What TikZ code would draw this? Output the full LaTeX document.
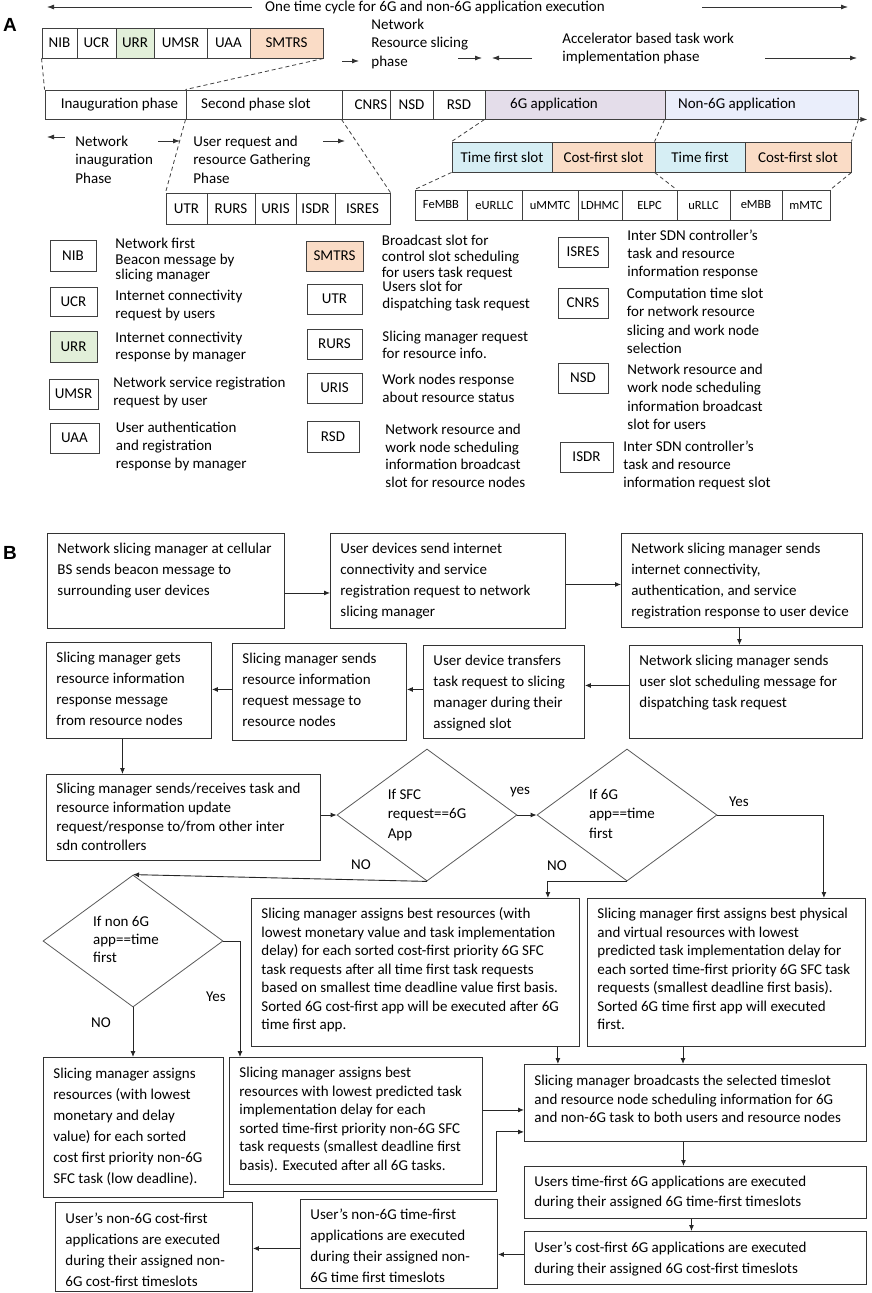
\documentclass[tikz,border=0pt]{standalone}
\usepackage{fontspec}
\setmainfont{Carlito}
\newfontfamily\headfont{Liberation Sans}
\usetikzlibrary{arrows.meta,shapes.geometric}

\definecolor{urrgreen}{HTML}{E2EFD9}
\definecolor{slotorange}{HTML}{FADCC6}
\definecolor{appsix}{HTML}{E4DDEA}
\definecolor{appnonsix}{HTML}{EAEEFB}
\definecolor{timecyan}{HTML}{D6EEF4}

% text lines of a flow box, kept at the top of the box
\newcommand{\boxlines}[3]{\parbox[c][#2][t]{#1}{\begin{tabular}[t]{@{}l@{}}#3\end{tabular}}}
\newcommand{\keylines}[1]{\begin{tabular}[t]{@{}l@{}}#1\end{tabular}}

\tikzset{
  cell/.style={draw=black!75, minimum height=30pt, inner sep=0pt, font=\fontsize{15}{18}\selectfont},
  tinycell/.style={cell, font=\fontsize{12.5}{15}\selectfont},
  keybox/.style={draw=black!75, minimum height=30pt, inner sep=0pt, font=\fontsize{15}{18}\selectfont},
  keytext/.style={anchor=base west, inner sep=0pt, font=\fontsize{15}{18.3}\selectfont},
  note/.style={inner sep=0pt, font=\fontsize{15}{18.8}\selectfont},
  zoomline/.style={black!75, line width=0.8pt, dash pattern=on 4pt off 3pt},
  span/.style={black!80, line width=0.8pt, -{Latex[length=7pt,width=5pt]}},
  flowbox/.style={draw=black!80, anchor=north west, inner xsep=10pt, inner ysep=5pt, font=\fontsize{15}{21}\selectfont},
  tightbox/.style={flowbox, inner ysep=7.5pt, font=\fontsize{15}{18.5}\selectfont},
  decision/.style={diamond, draw=black!65, line width=0.8pt, aspect=1.36, inner sep=0pt, minimum width=180pt, minimum height=132pt, font=\fontsize{15}{19.5}\selectfont},
  flow/.style={black!85, -{Latex[length=6pt,width=5pt]}},
  panel/.style={inner sep=0pt, font=\headfont\bfseries\fontsize{19}{19}\selectfont}
}

\begin{document}
\begin{tikzpicture}[x=1pt, y=-1pt, line width=0.9pt]
  \useasboundingbox (0,0) rectangle (872,1293);

  %% panel A
  \node[panel] (panelA) at (10,25) {A};

  \node[note] (cycle) at (435,7) {One time cycle for 6G and non-6G application execution};
  \coordinate (cycleL) at (47,7);
  \coordinate (cycleR0) at (702,7);
  \coordinate (cycleR) at (848,7);
  \draw[span] ([xshift=-13pt]cycle.west) -- (cycleL);
  \draw[span] (cycleR0) -- (cycleR);

  % first phase slots
  \node[cell, minimum width=35pt] (nib) at (59.5,43) {NIB};
  \node[cell, minimum width=39pt] (ucr) at (96.5,43) {UCR};
  \node[cell, minimum width=38pt, fill=urrgreen] (urr) at (135,43) {URR};
  \node[cell, minimum width=53pt] (umsr) at (180.5,43) {UMSR};
  \node[cell, minimum width=43pt] (uaa) at (228.5,43) {UAA};
  \node[cell, minimum width=73pt, fill=slotorange] (smtrs) at (286.5,43) {SMTRS};

  \node[note, anchor=base west, font=\fontsize{15}{18.3}\selectfont] (slicephase) at (371,29.5) {\keylines{Network\\Resource slicing\\phase}};
  \node[note, anchor=base west, font=\fontsize{15}{18}\selectfont] (accelphase) at (562,43.8) {\keylines{Accelerator based task work\\implementation phase}};
  \coordinate (sliceA0) at (342,61);
  \coordinate (sliceA) at (359,61);
  \coordinate (sliceB0) at (458,58);
  \coordinate (sliceB) at (482,58);
  \coordinate (accelA0) at (532,58);
  \coordinate (accelA) at (492,58);
  \coordinate (accelB0) at (765,58);
  \coordinate (accelB) at (857,58);
  \draw[span] (sliceA0) -- (sliceA);
  \draw[span] (sliceB0) -- (sliceB);
  \draw[span] (accelA0) -- (accelA);
  \draw[span] (accelB0) -- (accelB);

  % time cycle
  \node[cell, minimum height=29pt, minimum width=141pt] (inaug) at (115.5,104.5) {\hspace*{8pt}Inauguration phase};
  \node[cell, minimum height=29pt, minimum width=156pt] (second) at (264,104.5) {Second phase slot\hspace*{16pt}};
  \node[cell, minimum height=29pt, minimum width=48pt] (cnrs) at (366,104.5) {\hspace*{10pt}CNRS};
  \node[cell, minimum height=29pt, minimum width=43pt] (nsd) at (411.5,104.5) {NSD};
  \node[cell, minimum height=29pt, minimum width=52pt] (rsd) at (459,104.5) {RSD};
  \node[cell, minimum height=29pt, minimum width=180pt, fill=appsix] (app6g) at (575,104.5) {6G application\hspace*{42pt}};
  \node[cell, minimum height=29pt, minimum width=193pt, fill=appnonsix] (appnon) at (761.5,104.5) {Non-6G application\hspace*{49pt}};
  \draw[span] (appnon.south east) -- ([xshift=9pt]appnon.south east);

  \draw[zoomline] (nib.south west) -- (inaug.north west);
  \draw[zoomline] (smtrs.south east) -- (second.north west);

  \node[note, anchor=base west] (inaugphase) at (75,146) {\keylines{Network\\inauguration\\Phase}};
  \node[note, anchor=base west] (gatherphase) at (193,146) {\keylines{User request and\\resource Gathering\\Phase}};
  \coordinate (inaugA0) at (65,137);
  \coordinate (inaugA) at (47,137);
  \coordinate (inaugB0) at (158,141);
  \coordinate (inaugB) at (180,141);
  \coordinate (gatherB0) at (323,141);
  \coordinate (gatherB) at (345,141);
  \draw[span] (inaugA0) -- (inaugA);
  \draw[span] (inaugB0) -- (inaugB);
  \draw[span] (gatherB0) -- (gatherB);

  % second phase slots
  \node[cell, minimum height=31pt, minimum width=41pt] (utr) at (186.5,208.5) {UTR};
  \node[cell, minimum height=31pt, minimum width=48pt] (rurs) at (231,208.5) {RURS};
  \node[cell, minimum height=31pt, minimum width=41pt] (uris) at (275.5,208.5) {URIS};
  \node[cell, minimum height=31pt, minimum width=39pt] (isdr) at (315.5,208.5) {ISDR};
  \node[cell, minimum height=31pt, minimum width=55pt] (isres) at (362.5,208.5) {ISRES};
  \draw[zoomline] (second.south west) -- (utr.north west);
  \draw[zoomline] (cnrs.south west) -- (isres.north east);

  % application slots
  \node[cell, minimum width=100pt, fill=timecyan] (tfs) at (502,157) {Time first slot};
  \node[cell, minimum width=103pt, fill=slotorange] (cfs) at (603.5,157) {Cost-first slot};
  \node[cell, minimum width=90pt, fill=timecyan] (tf) at (700,157) {Time first};
  \node[cell, minimum width=106pt, fill=slotorange] (cfsnon) at (798,157) {Cost-first slot};
  \draw[zoomline] (app6g.south west) -- (tfs.north west);
  \draw[zoomline] (appnon.south west) -- (tf.north west);
  \draw[zoomline] (appnon.south east) -- (cfsnon.north east);

  \node[tinycell, minimum width=52pt] (fembb) at (441,205) {FeMBB};
  \node[tinycell, minimum width=55pt] (eurllc) at (494.5,205) {eURLLC};
  \node[tinycell, minimum width=56pt] (ummtc) at (550,205) {uMMTC};
  \node[tinycell, minimum width=44pt] (ldhmc) at (600,205) {LDHMC};
  \node[tinycell, minimum width=55pt] (elpc) at (649.5,205) {ELPC};
  \node[tinycell, minimum width=53pt] (urllc) at (703.5,205) {uRLLC};
  \node[tinycell, minimum width=52pt] (embb) at (756,205) {eMBB};
  \node[tinycell, minimum width=48pt] (mmtc) at (806,205) {mMTC};
  \draw[zoomline] (tfs.south west) -- (fembb.north west);
  \draw[zoomline] (tf.south west) -- (urllc.north west);
  \draw[zoomline] (cfsnon.south east) -- (mmtc.north east);

  % key
  \node[keybox, minimum width=46pt, minimum height=31pt] (keynib) at (73,255.5) {NIB};
  \node[keytext, font=\fontsize{15}{15.5}\selectfont] (txtnib) at (115,248.5) {\keylines{Network first\\Beacon message by\\ slicing manager}};
  \node[keybox, minimum width=47pt, minimum height=29pt] (keyucr) at (73.5,301.5) {UCR};
  \node[keytext, font=\fontsize{15}{18}\selectfont] (txtucr) at (115,300.5) {\keylines{Internet connectivity\\request by users}};
  \node[keybox, minimum width=47pt, minimum height=31pt, fill=urrgreen] (keyurr) at (73.5,346.5) {URR};
  \node[keytext, font=\fontsize{15}{17.7}\selectfont] (txturr) at (115,342) {\keylines{Internet connectivity\\response by manager}};
  \node[keybox, minimum width=49pt] (keyumsr) at (73.5,394) {UMSR};
  \node[keytext] (txtumsr) at (113,387) {\keylines{Network service registration\\request by user}};
  \node[keybox, minimum width=49pt] (keyuaa) at (74.5,438) {UAA};
  \node[keytext] (txtuaa) at (115.5,432) {\keylines{User authentication\\and registration\\response by manager}};

  \node[keybox, minimum width=57pt, fill=slotorange] (keysmtrs) at (334.5,256) {SMTRS};
  \node[keytext, font=\fontsize{15}{16.3}\selectfont] (txtsmtrs) at (381.5,245) {\keylines{Broadcast slot for\\control slot scheduling\\for users task request}};
  \node[keybox, minimum width=55pt] (keyutr) at (334.5,299) {UTR};
  \node[keytext, font=\fontsize{15}{17}\selectfont] (txtutr) at (382,291) {\keylines{Users slot for\\dispatching task request}};
  \node[keybox, minimum width=55pt] (keyrurs) at (334.5,344) {RURS};
  \node[keytext, font=\fontsize{15}{17.3}\selectfont] (txtrurs) at (382,341) {\keylines{Slicing manager request\\for resource info.}};
  \node[keybox, minimum width=55pt] (keyuris) at (334.5,388) {URIS};
  \node[keytext, font=\fontsize{15}{17.7}\selectfont] (txturis) at (382,384.5) {\keylines{Work nodes response\\about resource status}};
  \node[keybox, minimum width=52pt, minimum height=31pt] (keyrsd) at (333,436.5) {RSD};
  \node[keytext, font=\fontsize{15}{17.5}\selectfont] (txtrsd) at (385,434.5) {\keylines{Network resource and\\work node scheduling\\information broadcast\\slot for resource nodes}};

  \node[keybox, minimum width=50pt] (keyisres) at (583,252) {ISRES};
  \node[keytext] (txtisres) at (627,240) {\keylines{Inter SDN controller’s\\task and resource\\information response}};
  \node[keybox, minimum width=50pt] (keycnrs) at (583,303) {CNRS};
  \node[keytext] (txtcnrs) at (626.5,298.5) {\keylines{Computation time slot\\for network resource\\slicing and work node\\selection}};
  \node[keybox, minimum width=50pt] (keynsd) at (583,378) {NSD};
  \node[keytext] (txtnsd) at (627,374.5) {\keylines{Network resource and\\work node scheduling\\information broadcast\\slot for users}};
  \node[keybox, minimum width=53pt] (keyisdr) at (586.5,457) {ISDR};
  \node[keytext] (txtisdr) at (623,451) {\keylines{Inter SDN controller’s\\task and resource\\information request slot}};

  %% panel B
  \node[panel] (panelB) at (10,553) {B};

  \node[flowbox] (beacon) at (47,533) {\boxlines{217pt}{85pt}{Network slicing manager at cellular\\BS sends beacon message to\\surrounding user devices}};
  \node[flowbox] (userreq) at (330,533) {\boxlines{215pt}{85pt}{User devices send internet\\connectivity and service\\registration request to network\\slicing manager}};
  \node[flowbox] (regresp) at (621,533) {\boxlines{221pt}{84pt}{Network slicing manager sends\\internet connectivity,\\authentication, and service\\registration response to user device}};
  \node[flowbox] (slotsched) at (629,645) {\boxlines{213pt}{83pt}{Network slicing manager sends\\user slot scheduling message for\\dispatching task request}};
  \node[flowbox] (transfer) at (423,645) {\boxlines{141pt}{83pt}{User device transfers\\task request to slicing\\manager during their\\assigned slot}};
  \node[flowbox] (inforeq) at (232,643) {\boxlines{154pt}{87pt}{Slicing manager sends\\resource information\\request message to\\resource nodes}};
  \node[flowbox] (inforesp) at (46,642) {\boxlines{145pt}{86pt}{Slicing manager gets\\resource information\\response message\\from resource nodes}};
  \node[flowbox, inner ysep=6pt, font=\fontsize{15}{19}\selectfont] (update) at (46,774) {\boxlines{254pt}{74pt}{Slicing manager sends/receives task and\\resource information update\\request/response to/from other inter\\sdn controllers}};

  \node[decision] (sfc) at (427,815) {\keylines{If SFC\\request==6G\\App}};
  \node[decision] (sixtime) at (627,815) {\keylines{If 6G\\app==time\\first}\hspace*{10pt}};
  \node[decision, font=\fontsize{15}{18}\selectfont] (nontime) at (133,941) {\keylines{If non 6G\\app==time\\first}\hspace*{14pt}};

  \node[tightbox] (costsix) at (251,898) {\boxlines{308pt}{133pt}{Slicing manager assigns best resources (with\\lowest monetary value and task implementation\\delay) for each sorted cost-first priority 6G SFC\\task requests after all time first task requests\\based on smallest time deadline value first basis.\\Sorted 6G cost-first app will be executed after 6G\\time first app.}};
  \node[tightbox] (timesix) at (587,898) {\boxlines{258pt}{133pt}{Slicing manager first assigns best physical\\and virtual resources with lowest\\predicted task implementation delay for\\each sorted time-first priority 6G SFC task\\requests (smallest deadline first basis).\\Sorted 6G time first app will executed\\first.}};
  \node[flowbox, inner ysep=6pt] (costnon) at (43,1057) {\boxlines{160pt}{128pt}{Slicing manager assigns\\resources (with lowest\\monetary and delay\\value) for each sorted\\cost first priority non-6G\\SFC task (low deadline).}};
  \node[tightbox] (timenon) at (229,1057) {\boxlines{233pt}{112pt}{Slicing manager assigns best\\resources with lowest predicted task\\implementation delay for each\\sorted time-first priority non-6G SFC\\task requests (smallest deadline first\\basis). Executed after all 6G tasks.}};
  \node[tightbox, inner ysep=8.5pt] (broadcast) at (524,1064) {\boxlines{322pt}{60pt}{Slicing manager broadcasts the selected timeslot\\and resource node scheduling information for 6G\\and non-6G task to both users and resource nodes}};
  \node[flowbox, inner ysep=6.5pt, font=\fontsize{15}{20}\selectfont] (runtimesix) at (524,1166) {\boxlines{322pt}{39pt}{Users time-first 6G applications are executed\\during their assigned 6G time-first timeslots}};
  \node[flowbox, inner ysep=6pt] (runcostsix) at (524,1231) {\boxlines{322pt}{41pt}{User’s cost-first 6G applications are executed\\during their assigned 6G cost-first timeslots}};
  \node[flowbox] (runtimenon) at (300,1199) {\boxlines{177pt}{79pt}{User’s non-6G time-first\\applications are executed\\during their assigned non-\\6G time first timeslots}};
  \node[flowbox, inner ysep=6pt] (runcostnon) at (55,1202) {\boxlines{177pt}{77pt}{User’s non-6G cost-first\\applications are executed\\during their assigned non-\\6G cost-first timeslots}};

  \node[note] (lblyes) at (520,792) {yes};
  \node[note] (lblyessix) at (739,802) {Yes};
  \node[note] (lblnosix) at (557,866) {NO};
  \node[note] (lblnosfc) at (361,865) {NO};
  \node[note] (lblyesnon) at (216,997) {Yes};
  \node[note] (lblnonon) at (101,1023) {NO};

  % connectors
  \draw[flow] ([yshift=-12pt]beacon.east) -- ([yshift=-12pt]userreq.west);
  \draw[flow] ([yshift=-3.5pt]userreq.east) coordinate (c2) -- (c2 -| regresp.west);
  \draw[flow] ([xshift=-2.5pt]regresp.south) coordinate (c3) -- (c3 |- slotsched.north);
  \draw[flow] ([yshift=6.5pt]slotsched.west) coordinate (c4) -- (c4 -| transfer.east);
  \draw[flow] ([yshift=2.5pt]transfer.west) coordinate (c5) -- (c5 -| inforeq.east);
  \draw[flow] ([yshift=2.5pt]inforeq.west) coordinate (c6) -- (c6 -| inforesp.east);
  \draw[flow] ([xshift=-6.5pt]inforesp.south) coordinate (c7) -- (c7 |- update.north);
  \draw[flow] (update.east |- sfc.west) -- (sfc.west);
  \draw[flow] (sfc.east) -- (sixtime.west);
  \draw[flow] (sfc.south) -- (nontime.north);
  \draw[flow] (sixtime.south) -| ([xshift=-32pt]costsix.north east);
  \draw[flow] (sixtime.east) -| ([xshift=-42pt]timesix.north east);
  \draw[flow] (nontime.east) -| ([xshift=11pt]timenon.north west);
  \draw[flow] (nontime.south) -- (nontime.south |- costnon.north);
  \draw[flow] ([xshift=-22pt]costsix.south east) coordinate (c9) -- (c9 |- broadcast.north);
  \draw[flow] ([xshift=96pt]timesix.south west) coordinate (c10) -- (c10 |- broadcast.north);
  \draw[flow] ([yshift=11pt]timenon.east) coordinate (c12) -- (c12 -| broadcast.west);
  \draw[flow] ([yshift=6pt]costnon.south east) -- ++(273,0) |- ([yshift=10pt]broadcast.south west);
  \draw[flow] ([xshift=-12pt]broadcast.south) -- ([xshift=-12pt]runtimesix.north);
  \draw[flow] ([xshift=-4pt]runtimesix.south) -- ([xshift=-4pt]runcostsix.north);
  \draw[flow] ([yshift=3.5pt]runcostsix.west) coordinate (c15) -- (c15 -| runtimenon.east);
  \draw[flow] ([yshift=-4.5pt]runtimenon.west) coordinate (c16) -- (c16 -| runcostnon.east);
\end{tikzpicture}
\end{document}
